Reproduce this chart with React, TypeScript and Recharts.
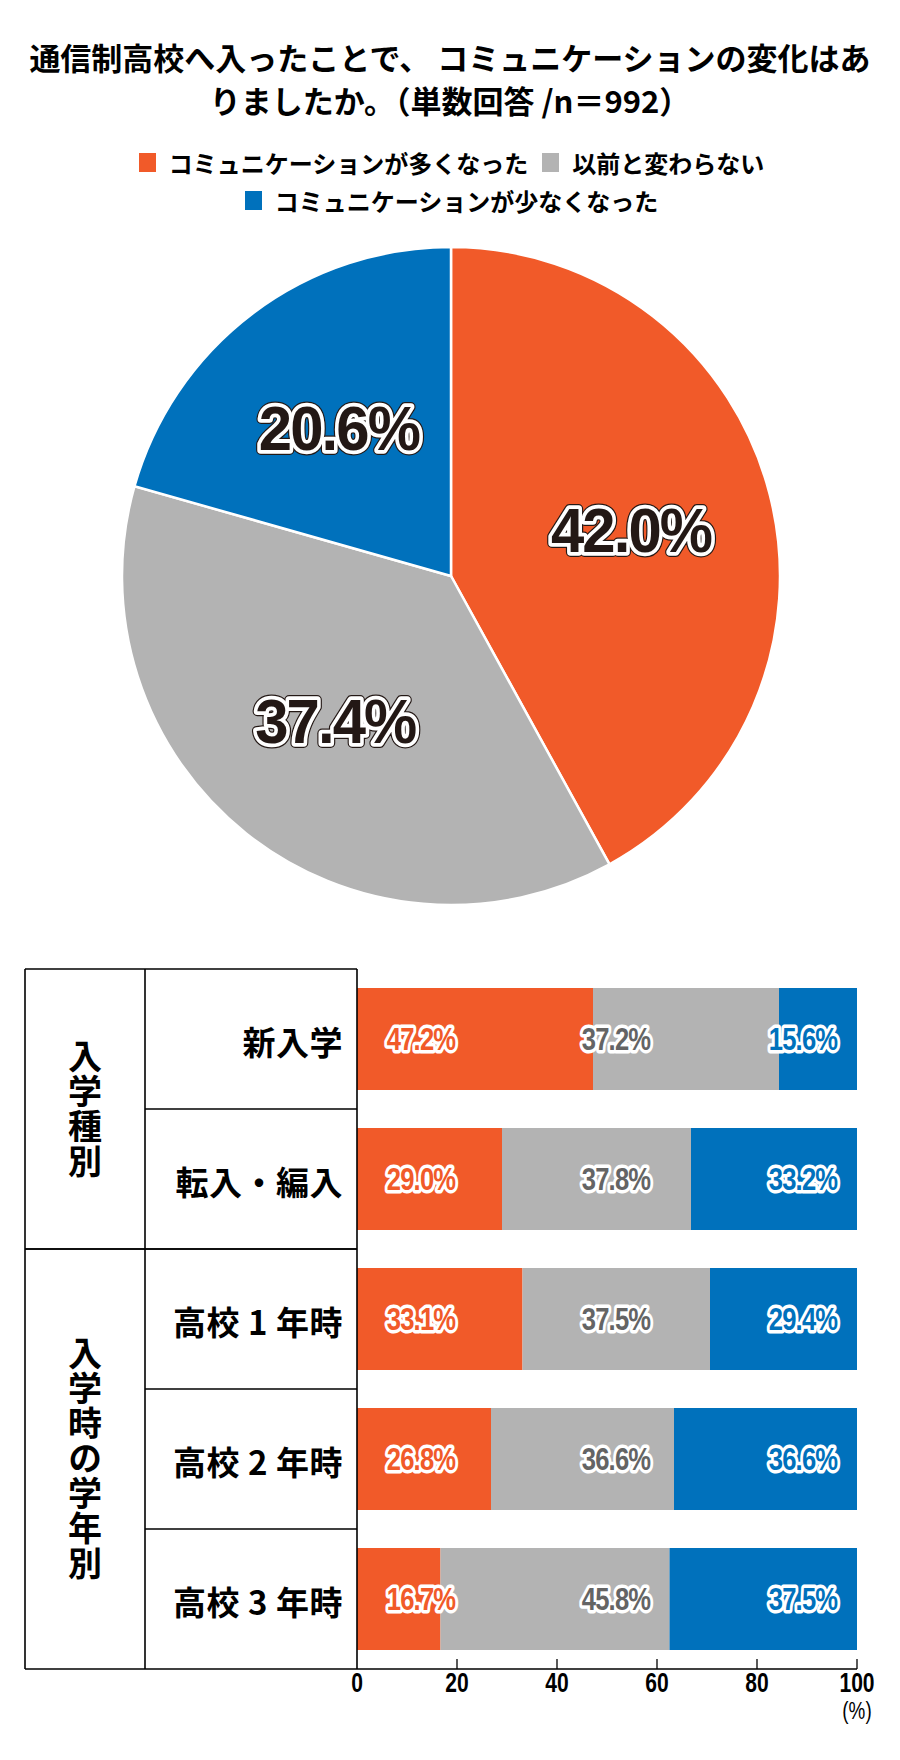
import React from 'react';
import { PieChart, Pie, Cell, Legend, BarChart, Bar, XAxis, YAxis, LabelList } from 'recharts';

// ---------- data ----------
const titleLines = ['通信制高校へ入ったことで、 コミュニケーションの変化はあ', 'りましたか。（単数回答 /n＝992）'];

const pieNames = ['コミュニケーションが多くなった', '以前と変わらない', 'コミュニケーションが少なくなった'];
const pieValues = [42.0, 37.4, 20.6];
const legendRows = [[0, 1], [2]];

const barCategories = ['新入学', '転入・編入', '高校 1 年時', '高校 2 年時', '高校 3 年時'];
const moreValues = [47.2, 29.0, 33.1, 26.8, 16.7];
const sameValues = [37.2, 37.8, 37.5, 36.6, 45.8];
const lessValues = [15.6, 33.2, 29.4, 36.6, 37.5];

const groupLabels = ['入学種別', '入学時の学年別'];
const groupSizes = [2, 3];

const xTicks = [0, 20, 40, 60, 80, 100];
const xUnit = '(%)';

// ---------- styles ----------
const COLORS = ['#F15A29', '#B3B3B3', '#0071BC'];
const LABEL_FILLS = ['#F15A29', '#646464', '#0071BC'];
const CJK = "'Noto Sans CJK JP', 'Noto Sans', sans-serif";
const SANS = "'Liberation Sans', Arial, sans-serif";

const pieData = pieNames.map((name, i) => ({ name, value: pieValues[i] }));
const barData = barCategories.map((name, i) => ({
  name,
  more: moreValues[i],
  same: sameValues[i],
  less: lessValues[i],
}));

// bar chart geometry
const BAR_W = 900;
const BAR_H = 800;
const BAR_MARGIN = { top: 29, right: 43, bottom: 31, left: 0 };
const X_AXIS_H = 40;
const Y_AXIS_W = 357;
const PLOT_H = BAR_H - BAR_MARGIN.top - BAR_MARGIN.bottom - X_AXIS_H;
const BAND = PLOT_H / barCategories.length;
const TABLE_LEFT = 25;
const TABLE_COL = 145;
const LABEL_CENTERS = [421, 616, 803];

const RAD = Math.PI / 180;

const renderPieLabel = (props: any) => {
  const { cx, cy, midAngle, outerRadius, value } = props;
  const r = outerRadius * 0.565;
  const x = cx + r * Math.cos(-midAngle * RAD);
  const y = cy + r * Math.sin(-midAngle * RAD);
  const text = `${Number(value).toFixed(1)}%`;
  const common: any = {
    x: 0,
    y: 0,
    textAnchor: 'middle',
    dominantBaseline: 'central',
    fontFamily: SANS,
    fontWeight: 700,
    fontSize: 63,
    letterSpacing: -2,
  };
  return (
    <g transform={`translate(${x},${y}) scale(0.95,1)`}>
      <text {...common} stroke="#231815" strokeWidth={10} strokeLinejoin="round" fill="#231815">{text}</text>
      <text {...common} stroke="#ffffff" strokeWidth={7.5} strokeLinejoin="round" fill="#ffffff">{text}</text>
      <text {...common} fill="#231815">{text}</text>
    </g>
  );
};

const renderLegend = (props: any) => {
  const payload: any[] = props.payload || [];
  const colorOf = (i: number) => {
    const found = payload.find((p: any) => p.value === pieNames[i]);
    return found && found.color ? found.color : COLORS[i];
  };
  return (
    <div style={{ width: 900, fontFamily: CJK, fontWeight: 700, fontSize: 24, color: '#000' }}>
      {legendRows.map((row, r) => (
        <div key={r} style={{ display: 'flex', justifyContent: 'center', height: 38, alignItems: 'center', paddingLeft: 3 }}>
          {row.map((i, k) => (
            <div key={i} style={{ display: 'flex', alignItems: 'center', marginLeft: k === 0 ? 0 : 14 }}>
              <span style={{ display: 'inline-block', width: 17, height: 19, background: colorOf(i), marginRight: 13 }} />
              <span style={{ whiteSpace: 'nowrap' }}>{pieNames[i]}</span>
            </div>
          ))}
        </div>
      ))}
    </div>
  );
};

const TableTick = (props: any) => {
  const { x, y, payload } = props;
  const i = payload.index;
  const top = y - BAND / 2;
  const bottom = y + BAND / 2;
  const lines: any[] = [];
  const extras: any[] = [];
  let start = 0;
  groupSizes.forEach((size, g) => {
    const end = start + size - 1;
    if (i === start) {
      lines.push(<line key={`gt${g}`} x1={TABLE_LEFT} x2={x} y1={top} y2={top} stroke="#000" strokeWidth={1.6} />);
      const center = y + ((size - 1) * BAND) / 2;
      const n = Array.from(groupLabels[g]).length;
      const pitch = 35;
      extras.push(
        <text
          key={`g${g}`}
          x={(TABLE_LEFT + TABLE_COL) / 2}
          y={center - (n * pitch) / 2}
          style={{ writingMode: 'vertical-rl' } as any}
          fontFamily={CJK}
          fontWeight={700}
          fontSize={34}
          letterSpacing={pitch - 34}
          fill="#000"
        >
          {groupLabels[g]}
        </text>
      );
    }
    if (i === end) {
      lines.push(<line key={`gb${g}`} x1={TABLE_LEFT} x2={x} y1={bottom} y2={bottom} stroke="#000" strokeWidth={1.6} />);
    } else if (i >= start && i < end) {
      lines.push(<line key={`rb${g}`} x1={TABLE_COL} x2={x} y1={bottom} y2={bottom} stroke="#000" strokeWidth={1.6} />);
    }
    start += size;
  });
  if (i === 0) {
    const total = barCategories.length * BAND;
    lines.push(<line key="vl" x1={TABLE_LEFT} x2={TABLE_LEFT} y1={top} y2={top + total} stroke="#000" strokeWidth={1.6} />);
    lines.push(<line key="vc" x1={TABLE_COL} x2={TABLE_COL} y1={top} y2={top + total} stroke="#000" strokeWidth={1.6} />);
  }
  return (
    <g>
      {lines}
      {extras}
      <text
        x={x - 14}
        y={y + 2}
        textAnchor="end"
        dominantBaseline="central"
        fontFamily={CJK}
        fontWeight={700}
        fontSize={33}
        letterSpacing={0.5}
        fill="#000"
      >
        {payload.value}
      </text>
    </g>
  );
};

const XTick = (props: any) => {
  const { x, y, payload } = props;
  const last = payload.value === xTicks[xTicks.length - 1];
  return (
    <g>
      {payload.value !== 0 && <line x1={x} x2={x} y1={y - 10} y2={y} stroke="#000" strokeWidth={1.3} />}
      <g transform={`translate(${x},${y + 14}) scale(0.78,1)`}>
        <text x={0} y={0} textAnchor="middle" dominantBaseline="central" fontFamily={SANS} fontWeight={700} fontSize={27} fill="#000">
          {payload.value}
        </text>
      </g>
      {last && (
        <g transform={`translate(${x},${y + 42}) scale(0.82,1)`}>
          <text x={0} y={0} textAnchor="middle" dominantBaseline="central" fontFamily={SANS} fontWeight={400} fontSize={23} fill="#000">
            {xUnit}
          </text>
        </g>
      )}
    </g>
  );
};

const makeBarLabel = (s: number) => (props: any) => {
  const { y, height, value } = props;
  const text = `${Number(value).toFixed(1)}%`;
  const common: any = {
    x: 0,
    y: 0,
    textAnchor: 'middle',
    dominantBaseline: 'central',
    fontFamily: SANS,
    fontWeight: 700,
    fontSize: 32,
    letterSpacing: -1,
  };
  return (
    <g transform={`translate(${LABEL_CENTERS[s]},${y + height / 2}) scale(0.8,1)`}>
      <text {...common} stroke="#ffffff" strokeWidth={7} strokeLinejoin="round" fill="#ffffff">{text}</text>
      <text {...common} fill={LABEL_FILLS[s]}>{text}</text>
    </g>
  );
};

export default function App() {
  return (
    <div style={{ position: 'absolute', left: 0, top: 0, width: 900, height: 1760, background: '#fff', overflow: 'hidden' }}>
      {titleLines.map((t, i) => (
        <div
          key={i}
          style={{
            position: 'absolute',
            left: 0,
            width: 900,
            top: 36 + i * 43,
            height: 42,
            lineHeight: '42px',
            textAlign: 'center',
            fontFamily: CJK,
            fontWeight: 700,
            fontSize: 31,
            color: '#000',
            whiteSpace: 'pre',
          }}
        >
          {t}
        </div>
      ))}
      <div style={{ position: 'absolute', left: 0, top: 0 }}>
        <PieChart width={900} height={930} margin={{ top: 0, right: 0, bottom: 0, left: 0 }}>
          <Legend
            content={renderLegend}
            wrapperStyle={{ position: 'absolute', top: 143, left: 0, bottom: 'auto', width: 900 }}
          />
          <Pie
            data={pieData}
            dataKey="value"
            nameKey="name"
            cx={451}
            cy={576}
            outerRadius={329}
            startAngle={90}
            endAngle={-270}
            stroke="#ffffff"
            strokeWidth={2.5}
            label={renderPieLabel}
            labelLine={false}
            isAnimationActive={false}
          >
            {pieData.map((_, i) => (
              <Cell key={i} fill={COLORS[i]} />
            ))}
          </Pie>
        </PieChart>
      </div>
      <div style={{ position: 'absolute', left: 0, top: 940 }}>
        <BarChart width={BAR_W} height={BAR_H} data={barData} layout="vertical" margin={BAR_MARGIN} barSize={102}>
          <XAxis
            type="number"
            domain={[0, 100]}
            ticks={xTicks}
            height={X_AXIS_H}
            axisLine={{ stroke: '#000', strokeWidth: 1.6 }}
            tickLine={false}
            tickSize={0}
            tickMargin={0}
            tick={<XTick />}
            interval={0}
          />
          <YAxis
            type="category"
            dataKey="name"
            width={Y_AXIS_W}
            axisLine={{ stroke: '#000', strokeWidth: 1.6 }}
            tickLine={false}
            tickSize={0}
            tickMargin={0}
            tick={<TableTick />}
            interval={0}
          />
          <Bar dataKey="more" stackId="a" fill={COLORS[0]} isAnimationActive={false}>
            <LabelList dataKey="more" content={makeBarLabel(0)} />
          </Bar>
          <Bar dataKey="same" stackId="a" fill={COLORS[1]} isAnimationActive={false}>
            <LabelList dataKey="same" content={makeBarLabel(1)} />
          </Bar>
          <Bar dataKey="less" stackId="a" fill={COLORS[2]} isAnimationActive={false}>
            <LabelList dataKey="less" content={makeBarLabel(2)} />
          </Bar>
        </BarChart>
      </div>
    </div>
  );
}
